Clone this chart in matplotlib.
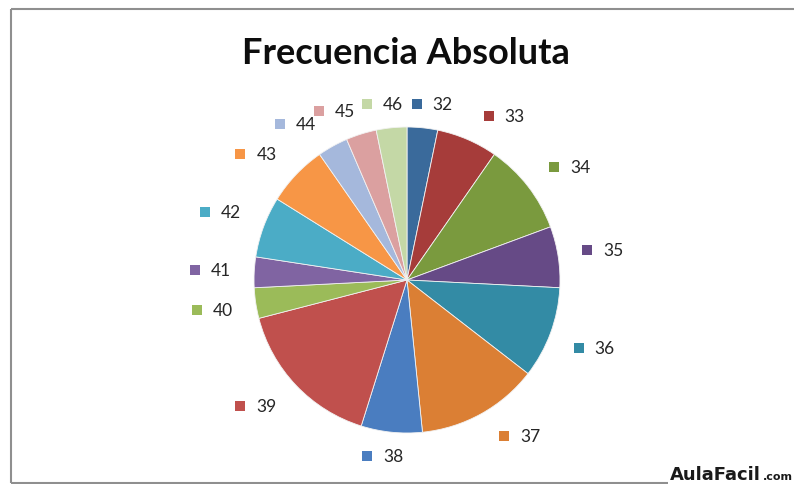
import numpy as np
import matplotlib
matplotlib.use("Agg")
import matplotlib.pyplot as plt

# ---- data ----
title = "Frecuencia Absoluta"
categories = ["32", "33", "34", "35", "36", "37", "38", "39",
              "40", "41", "42", "43", "44", "45", "46"]
frequencies = [1, 2, 3, 2, 3, 4, 2, 5, 1, 1, 2, 2, 1, 1, 1]
colors = ["#3A6A9B", "#A63C3A", "#7A9A3E", "#664A86", "#338BA5",
          "#DB7F34", "#4A7DC0", "#C0504D", "#9BBB59", "#8064A2",
          "#4BACC6", "#F79646", "#A5B8DC", "#DBA0A0", "#C4D8A6"]

W, H = 794, 485
fig = plt.figure(figsize=(W / 100, H / 100), dpi=100)
ax = fig.add_axes([0, 0, 1, 1])
ax.set_axis_off()

cx, cy, R = 407, H - 281, 153
wedges, _ = ax.pie(frequencies, colors=colors, startangle=90, counterclock=False,
                   center=(cx, cy), radius=R,
                   wedgeprops=dict(edgecolor="#f2f2f2", linewidth=0.6))
ax.set_xlim(0, W)
ax.set_ylim(0, H)
ax.set_aspect("equal")

# data labels with legend key (Excel style)
r_l, hw, hh, k = 165, 32, 12, 2.5
for w, lab, col in zip(wedges, categories, colors):
    mid = np.deg2rad((w.theta1 + w.theta2) / 2)
    dx, dy = np.cos(mid), np.sin(mid)
    sx = np.clip(dx * k, -1, 1)
    sy = np.clip(dy * k, -1, 1)
    bx = cx + r_l * dx + hw * sx
    by = cy + r_l * dy + hh * sy
    ax.plot([bx - 15], [by], marker="s", markersize=7, color=col,
            markeredgewidth=0, linestyle="none")
    ax.text(bx + 1, by, lab, ha="left", va="center", fontsize=12.5,
            family="Lato", color="#262626")

# title
ax.text(406, H - 64, title, ha="center", va="baseline", fontsize=26,
        fontweight="bold", family="Lato", color="#0d0d0d")

# chart frame
fc = "#8f8f8f"
ax.plot([11, W], [H - 10, H - 10], color=fc, lw=1.5, solid_capstyle="butt")
ax.plot([11, 11], [H - 10, H - 484], color=fc, lw=1.5, solid_capstyle="butt")
ax.plot([11, 668], [H - 484, H - 484], color=fc, lw=1.5, solid_capstyle="butt")

# watermark
ax.text(670, H - 480, "AulaFacil", ha="left", va="baseline", fontsize=13,
        fontweight="bold", family="DejaVu Sans", color="#1a1a1a")
ax.text(763, H - 480, ".com", ha="left", va="baseline", fontsize=8,
        fontweight="bold", family="DejaVu Sans", color="#1a1a1a")

fig.savefig("out.png", dpi=100)
